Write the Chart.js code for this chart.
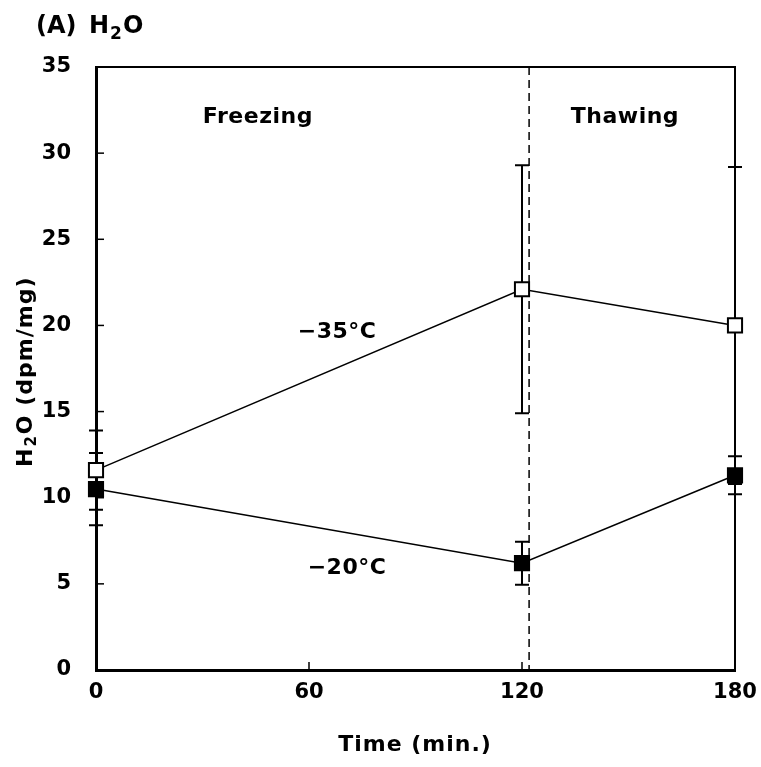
<!DOCTYPE html>
<html>
<head>
<meta charset="utf-8">
<script src="https://cdn.jsdelivr.net/npm/chart.js@4"></script>
<style>
  body { margin: 0; background: #fff; }
</style>
</head>
<body>
<canvas id="h2oChart" width="761" height="767"></canvas>
<script>
// DATA
let timeMin = [0, 120, 180];
let h2o35 = [11.6, 22.1, 20.0];
let err35 = [2.3, 7.2, 9.2];
let h2o20 = [10.5, 6.2, 11.3];
let err20 = [2.1, 1.25, 1.1];
let thawStart = 122;
let xTickStep = 60;
let yTickStep = 5;

let fontFam = '"DejaVu Sans", sans-serif';

function toPoints(xs, ys) {
    let pts = [];
    for (let i = 0; i < xs.length; i++) pts.push({x: xs[i], y: ys[i]});
    return pts;
}

// draws box, inward ticks, error bars, dashed line and texts
let decorPlugin = {
    id: 'decor',
    beforeDatasetsDraw(chart) {
        let ctx = chart.ctx, a = chart.chartArea;
        let xs = chart.scales.x, ys = chart.scales.y;
        ctx.save();
        // dashed thaw line
        ctx.strokeStyle = '#000';
        ctx.lineWidth = 1.5;
        ctx.setLineDash([8, 5]);
        let dx = xs.getPixelForValue(thawStart);
        ctx.beginPath();
        ctx.moveTo(dx, a.top);
        ctx.lineTo(dx, a.bottom);
        ctx.stroke();
        ctx.setLineDash([]);
        // error bars
        let sets = [[h2o35, err35], [h2o20, err20]];
        ctx.lineWidth = 2;
        sets.forEach(function (s) {
            for (let i = 0; i < timeMin.length; i++) {
                let px = xs.getPixelForValue(timeMin[i]);
                let top = ys.getPixelForValue(s[0][i] + s[1][i]);
                let bot = ys.getPixelForValue(s[0][i] - s[1][i]);
                ctx.beginPath();
                ctx.moveTo(px, top); ctx.lineTo(px, bot);
                ctx.moveTo(px - 7, top); ctx.lineTo(px + 7, top);
                ctx.moveTo(px - 7, bot); ctx.lineTo(px + 7, bot);
                ctx.stroke();
            }
        });
        // box top / right
        ctx.lineWidth = 2;
        ctx.beginPath();
        ctx.moveTo(a.left, a.top); ctx.lineTo(a.right, a.top); ctx.lineTo(a.right, a.bottom);
        ctx.stroke();
        // inward ticks
        ctx.lineWidth = 1.5;
        for (let v = 0; v <= 180; v += xTickStep) {
            let px = xs.getPixelForValue(v);
            ctx.beginPath(); ctx.moveTo(px, a.bottom); ctx.lineTo(px, a.bottom - 8); ctx.stroke();
        }
        for (let v = 0; v <= 35; v += yTickStep) {
            let py = ys.getPixelForValue(v);
            ctx.beginPath(); ctx.moveTo(a.left, py); ctx.lineTo(a.left + 8, py); ctx.stroke();
        }
        ctx.restore();
    },
    afterDraw(chart) {
        let ctx = chart.ctx;
        let xs = chart.scales.x, ys = chart.scales.y;
        ctx.save();
        ctx.fillStyle = '#000';
        ctx.textAlign = 'center';
        ctx.textBaseline = 'middle';
        ctx.font = 'bold 22px ' + fontFam;
        ctx.letterSpacing = '0.5px';
        ctx.fillText('Freezing', xs.getPixelForValue(45.6), ys.getPixelForValue(32.1));
        ctx.fillText('Thawing', xs.getPixelForValue(149), ys.getPixelForValue(32.1));
        ctx.fillText('\u221235\u00b0C', xs.getPixelForValue(67.9), ys.getPixelForValue(19.6));
        ctx.fillText('\u221220\u00b0C', xs.getPixelForValue(70.7), ys.getPixelForValue(5.9));
        ctx.letterSpacing = '1px';
        ctx.fillText('Time (min.)', 415, 745);

        // H2O with subscript
        function h2o(x, y, rest, big, small) {
            ctx.textAlign = 'left';
            ctx.font = 'bold ' + big + 'px ' + fontFam;
            ctx.fillText('H', x, y);
            x += ctx.measureText('H').width + 1;
            ctx.font = 'bold ' + small + 'px ' + fontFam;
            ctx.fillText('2', x, y + big * 0.3);
            x += ctx.measureText('2').width + 1;
            ctx.font = 'bold ' + big + 'px ' + fontFam;
            ctx.fillText(rest, x, y);
        }
        ctx.letterSpacing = '0px';
        ctx.font = 'bold 24px ' + fontFam;
        ctx.textAlign = 'left';
        ctx.fillText('(A)', 36, 27);
        h2o(89, 27, 'O', 24, 17);

        ctx.translate(26, 467);
        ctx.rotate(-Math.PI / 2);
        ctx.letterSpacing = '1px';
        h2o(0, 0, 'O (dpm/mg)', 22, 15);
        ctx.restore();
    }
};

let chartCtx = document.getElementById('h2oChart').getContext('2d');
let h2oChart = new Chart(chartCtx, {
    type: 'line',
    data: {
        datasets: [{
            label: '-35°C',
            data: toPoints(timeMin, h2o35),
            clip: false,
            borderColor: '#000',
            borderWidth: 1.5,
            pointStyle: 'rect',
            pointRadius: 10,
            pointBackgroundColor: '#fff',
            pointBorderColor: '#000',
            pointBorderWidth: 2
        }, {
            label: '-20°C',
            data: toPoints(timeMin, h2o20),
            clip: false,
            borderColor: '#000',
            borderWidth: 1.5,
            pointStyle: 'rect',
            pointRadius: 10,
            pointBackgroundColor: '#000',
            pointBorderColor: '#000',
            pointBorderWidth: 2
        }]
    },
    options: {
        responsive: false,
        animation: false,
        layout: { padding: { left: 0, top: 67, right: 26, bottom: 0 } },
        plugins: { legend: { display: false }, tooltip: { enabled: false } },
        scales: {
            x: {
                type: 'linear',
                min: 0, max: 180,
                grid: { display: false, drawTicks: false },
                border: { display: true, color: '#000', width: 3 },
                ticks: { stepSize: xTickStep, color: '#000', padding: 10,
                         font: { family: fontFam, size: 21, weight: 'bold' } },
                afterFit(s) { s.height = 97; s.paddingLeft = 0; s.paddingRight = 0; }
            },
            y: {
                min: 0, max: 35,
                grid: { display: false, drawTicks: false },
                border: { display: true, color: '#000', width: 3 },
                ticks: { stepSize: yTickStep, color: '#000', padding: 25,
                         font: { family: fontFam, size: 21, weight: 'bold' } },
                afterFit(s) { s.width = 96; s.paddingTop = 0; s.paddingBottom = 0; }
            }
        }
    },
    plugins: [decorPlugin]
});
</script>
</body>
</html>
